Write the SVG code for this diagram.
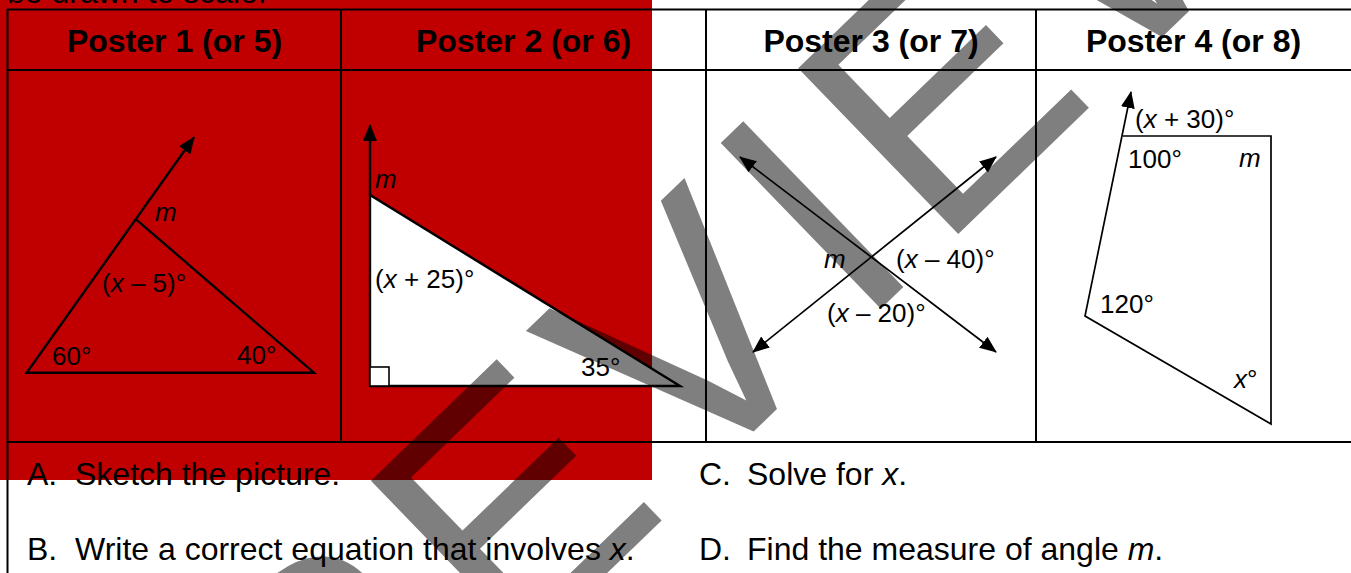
<svg xmlns="http://www.w3.org/2000/svg" width="1351" height="573" viewBox="0 0 1351 573">
<defs>
<style>
.t{font-family:"Liberation Sans",Arial,sans-serif;fill:#000}
.hd{font-size:32px;font-weight:bold;text-anchor:middle}
.bd{font-size:32px}
.lb{font-size:26px}
.i{font-style:italic}
.grid{stroke:#000;stroke-width:2;fill:none}
.fig{stroke:#000;stroke-width:2.4;fill:none;stroke-linejoin:miter}
.thin{stroke:#000;stroke-width:1.7;fill:none}
.wm{font-family:"Liberation Sans",Arial,sans-serif;font-size:335px;letter-spacing:18px;fill:#000;fill-opacity:0.5}
</style>
<marker id="ah" markerUnits="userSpaceOnUse" markerWidth="18" markerHeight="14" refX="16" refY="7" orient="auto-start-reverse" viewBox="0 0 18 14">
<path d="M0,0 L17,7 L0,14 Z" fill="#000"/>
</marker>
</defs>
<rect id="highlight" x="0" y="0" width="652" height="480" fill="#C00000"/>
<text class="t bd" x="7" y="3">be drawn to scale.</text>
<g id="table" class="grid">
<line x1="7" y1="9.5" x2="1351" y2="9.5"/>
<line x1="7" y1="70" x2="1351" y2="70"/>
<line x1="7" y1="442" x2="1351" y2="442"/>
<line x1="7.5" y1="9" x2="7.5" y2="573"/>
<line x1="341" y1="9" x2="341" y2="442"/>
<line x1="706" y1="9" x2="706" y2="442"/>
<line x1="1036" y1="9" x2="1036" y2="442"/>
</g>
<g id="headers">
<text class="t hd" x="174.5" y="52">Poster 1 (or 5)</text>
<text class="t hd" x="523.5" y="52">Poster 2 (or 6)</text>
<text class="t hd" x="871" y="52">Poster 3 (or 7)</text>
<text class="t hd" x="1193.5" y="52">Poster 4 (or 8)</text>
</g>
<g id="poster1">
<path class="fig" d="M136,219.3 L314,372.7 L26.7,372.7 L194,137.3" marker-end="url(#ah)"/>
<text class="t lb i" x="155" y="221">m</text>
<text class="t lb" x="102" y="292">(<tspan class="i">x</tspan> – 5)°</text>
<text class="t lb" x="52" y="365">60°</text>
<text class="t lb" x="237" y="364">40°</text>
</g>
<g id="poster2">
<polygon class="fig" points="370,195 370,386 680,386" fill="#fff" style="fill:#fff"/>
<line class="fig" x1="370" y1="195" x2="370" y2="125" marker-end="url(#ah)"/>
<rect x="370" y="367" width="19" height="19" fill="#fff" stroke="#000" stroke-width="1.6"/>
<text class="t lb i" x="375" y="188">m</text>
<text class="t lb" x="375" y="288">(<tspan class="i">x</tspan> + 25)°</text>
<text class="t lb" x="581" y="376">35°</text>
</g>
<g id="poster3">
<line class="thin" x1="740" y1="157" x2="996" y2="352" marker-start="url(#ah)" marker-end="url(#ah)"/>
<line class="thin" x1="753" y1="352" x2="996" y2="157" marker-start="url(#ah)" marker-end="url(#ah)"/>
<text class="t lb i" x="824" y="268">m</text>
<text class="t lb" x="896" y="268">(<tspan class="i">x</tspan> – 40)°</text>
<text class="t lb" x="827" y="322">(<tspan class="i">x</tspan> – 20)°</text>
</g>
<g id="poster4">
<path class="thin" d="M1123,136 L1271,136 L1271,424 L1085,316 L1131,92" marker-end="url(#ah)"/>
<text class="t lb" x="1135" y="128">(<tspan class="i">x</tspan> + 30)°</text>
<text class="t lb" x="1128" y="168">100°</text>
<text class="t lb i" x="1239" y="167">m</text>
<text class="t lb" x="1100" y="313">120°</text>
<text class="t lb" x="1234" y="388"><tspan class="i">x</tspan>°</text>
</g>
<g id="tasks">
<text class="t bd" x="27" y="485">A.</text><text class="t bd" x="75" y="485">Sketch the picture.</text>
<text class="t bd" x="27" y="560">B.</text><text class="t bd" x="75" y="560">Write a correct equation that involves <tspan class="i">x</tspan>.</text>
<text class="t bd" x="699" y="485">C.</text><text class="t bd" x="747" y="485">Solve for <tspan class="i">x</tspan>.</text>
<text class="t bd" x="699" y="560">D.</text><text class="t bd" x="747" y="560">Find the measure of angle <tspan class="i">m</tspan>.</text>
</g>
<text class="wm" transform="translate(150.6,1013.9) rotate(-44)">PREVIEW</text>
</svg>
